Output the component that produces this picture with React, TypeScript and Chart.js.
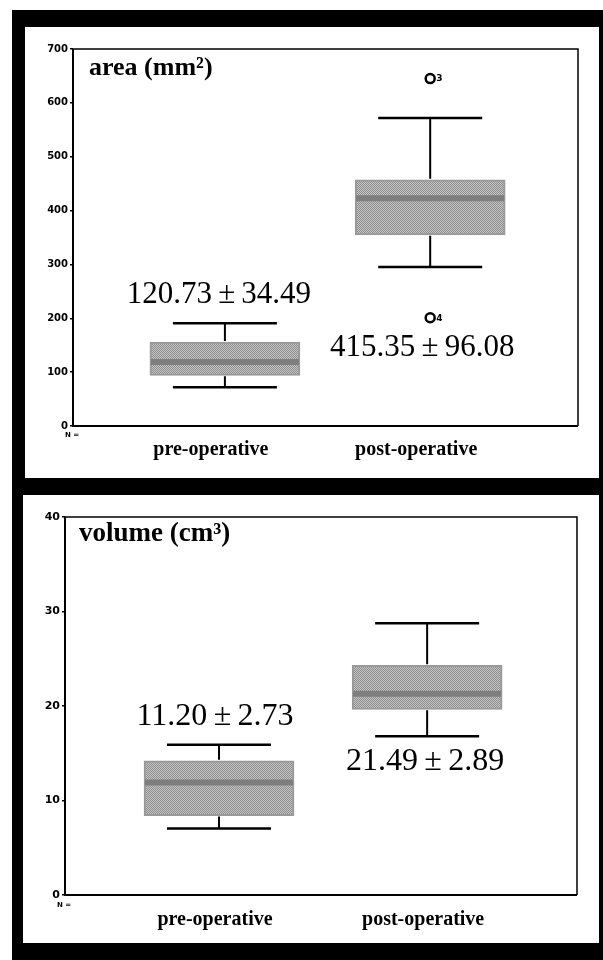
import React, { useEffect, useRef } from "react";
import { Chart, registerables } from "chart.js";

Chart.register(...registerables);

// ---------- data ----------
const categories = ["pre-operative", "post-operative"];

const areaMin = [72, 295];
const areaQ1 = [94, 355];
const areaMedian = [119, 423];
const areaQ3 = [156, 457];
const areaMax = [191, 572];
const areaOutlierGroup = [2, 2];
const areaOutlierValues = [645, 201];
const areaOutlierIds = ["3", "4"];
const areaMean = [120.73, 415.35];
const areaSD = [34.49, 96.08];
const areaTicks = [0, 100, 200, 300, 400, 500, 600, 700];

const volumeMin = [7.05, 16.8];
const volumeQ1 = [8.4, 19.65];
const volumeMedian = [11.9, 21.3];
const volumeQ3 = [14.2, 24.3];
const volumeMax = [15.9, 28.75];
const volumeOutlierGroup: number[] = [];
const volumeOutlierValues: number[] = [];
const volumeOutlierIds: string[] = [];
const volumeMean = [11.2, 21.49];
const volumeSD = [2.73, 2.89];
const volumeTicks = [0, 10, 20, 30, 40];

function makePattern(): CanvasPattern | string {
  const c = document.createElement("canvas");
  c.width = 2;
  c.height = 2;
  const g = c.getContext("2d");
  if (!g) return "#a8a8a8";
  g.fillStyle = "#c4c4c4";
  g.fillRect(0, 0, 2, 2);
  g.fillStyle = "#8e8e8e";
  g.fillRect(0, 0, 1, 1);
  g.fillRect(1, 1, 1, 1);
  const p = g.createPattern(c, "repeat");
  return p || "#a8a8a8";
}

type PanelProps = {
  width: number;
  height: number;
  title: string;
  titleFont: number;
  titleDx: number;
  titleDy: number;
  min: number[];
  q1: number[];
  median: number[];
  q3: number[];
  max: number[];
  outGroup: number[];
  outValues: number[];
  outIds: string[];
  mean: number[];
  sd: number[];
  ticks: number[];
  yAxisWidth: number;
  xAxisHeight: number;
  padRight: number;
  padTop: number;
  tickFont: number;
  labelOffset: number;
  labelPad: number;
  annoFont: number;
  annoPos: { dx: number; y: number }[];
  nDx: number;
  nDy: number;
};

function Panel(p: PanelProps) {
  const ref = useRef<HTMLCanvasElement | null>(null);
  useEffect(() => {
    if (!ref.current) return;
    const pattern = makePattern();
    const boxPlugin = {
      id: "boxExtras",
      afterDatasetsDraw(chart: any) {
        const ctx = chart.ctx;
        const xs = chart.scales.x;
        const ys = chart.scales.y;
        const area = chart.chartArea;
        ctx.save();
        for (let i = 0; i < categories.length; i++) {
          const cx = xs.getPixelForValue(i + 1);
          const half = 75;
          const capHalf = 52;
          ctx.strokeStyle = "#7e7e7e";
          ctx.lineWidth = 6;
          const my = ys.getPixelForValue(p.median[i]);
          ctx.beginPath();
          ctx.moveTo(cx - half + 1, my);
          ctx.lineTo(cx + half - 1, my);
          ctx.stroke();
          ctx.strokeStyle = "#000";
          ctx.lineWidth = 2;
          const yq3 = ys.getPixelForValue(p.q3[i]);
          const yq1 = ys.getPixelForValue(p.q1[i]);
          const ymax = ys.getPixelForValue(p.max[i]);
          const ymin = ys.getPixelForValue(p.min[i]);
          ctx.beginPath();
          ctx.moveTo(cx, yq3 - 1);
          ctx.lineTo(cx, ymax);
          ctx.moveTo(cx, yq1 + 1);
          ctx.lineTo(cx, ymin);
          ctx.stroke();
          ctx.lineWidth = 2.5;
          ctx.beginPath();
          ctx.moveTo(cx - capHalf, ymax);
          ctx.lineTo(cx + capHalf, ymax);
          ctx.moveTo(cx - capHalf, ymin);
          ctx.lineTo(cx + capHalf, ymin);
          ctx.stroke();
        }
        const meta = chart.getDatasetMeta(1);
        if (meta && meta.data) {
          ctx.fillStyle = "#000";
          ctx.font = "bold 9px 'DejaVu Sans'";
          ctx.textAlign = "left";
          ctx.textBaseline = "middle";
          meta.data.forEach((el: any, k: number) => {
            ctx.fillText(p.outIds[k], el.x + 6, el.y + 0.5);
          });
        }
        ctx.fillStyle = "#000";
        ctx.font = `${p.annoFont}px 'Liberation Serif'`;
        ctx.textAlign = "center";
        ctx.textBaseline = "middle";
        for (let i = 0; i < categories.length; i++) {
          const txt = `${p.mean[i].toFixed(2)}\u2009\u00b1\u2009${p.sd[i].toFixed(2)}`;
          const ax = xs.getPixelForValue(i + 1) + p.annoPos[i].dx;
          const ay = ys.getPixelForValue(p.annoPos[i].y);
          ctx.fillText(txt, ax, ay);
        }
        ctx.font = `bold ${p.titleFont}px 'Liberation Serif'`;
        ctx.textAlign = "left";
        ctx.textBaseline = "alphabetic";
        ctx.fillText(p.title, area.left + p.titleDx, area.top + p.titleDy);
        ctx.font = "bold 7px 'DejaVu Sans'";
        ctx.textBaseline = "middle";
        ctx.fillText("N =", area.left + p.nDx, area.bottom + p.nDy);
        ctx.strokeStyle = "#000";
        ctx.lineWidth = 1.5;
        ctx.beginPath();
        ctx.moveTo(area.left, area.top);
        ctx.lineTo(area.right, area.top);
        ctx.lineTo(area.right, area.bottom);
        ctx.stroke();
        ctx.lineWidth = 2;
        ctx.beginPath();
        ctx.moveTo(area.left, area.top);
        ctx.lineTo(area.left, area.bottom);
        ctx.lineTo(area.right, area.bottom);
        ctx.stroke();
        ctx.restore();
      },
    };

    const chart = new Chart(ref.current, {
      data: {
        datasets: [
          {
            type: "bar",
            data: categories.map((_, i) => ({ x: i + 1, y: [p.q1[i], p.q3[i]] })) as any,
            backgroundColor: pattern as any,
            borderColor: "#999999",
            borderWidth: 2,
            borderSkipped: false,
            barThickness: 150,
          },
          {
            type: "scatter",
            data: p.outValues.map((v, k) => ({ x: p.outGroup[k], y: v })),
            pointRadius: 4.5,
            pointBorderWidth: 2.5,
            borderColor: "#000",
            backgroundColor: "#fff",
          },
        ],
      } as any,
      options: {
        animation: false,
        responsive: false,
        layout: { padding: { top: p.padTop, right: p.padRight, left: 0, bottom: 0 } },
        plugins: { legend: { display: false }, tooltip: { enabled: false } },
        scales: {
          x: {
            type: "linear",
            min: 0.26,
            max: 2.72,
            offset: false,
            afterBuildTicks: (s: any) => {
              s.ticks = categories.map((_, i) => ({ value: i + 1 }));
            },
            afterFit: (s: any) => {
              s.height = p.xAxisHeight;
            },
            grid: { display: false, drawTicks: false, offset: false },
            border: { display: false },
            ticks: {
              autoSkip: false,
              maxRotation: 0,
              padding: p.labelPad,
              labelOffset: p.labelOffset,
              color: "#000",
              font: { family: "'Liberation Serif'", size: 20, weight: "bold" },
              callback: (v: any) => categories[Number(v) - 1] ?? "",
            },
          },
          y: {
            type: "linear",
            min: p.ticks[0],
            max: p.ticks[p.ticks.length - 1],
            afterBuildTicks: (s: any) => {
              s.ticks = p.ticks.map((v) => ({ value: v }));
            },
            afterFit: (s: any) => {
              s.width = p.yAxisWidth;
            },
            grid: {
              display: true,
              drawOnChartArea: false,
              drawTicks: true,
              tickLength: 3,
              color: "#000",
              lineWidth: 1.5,
            },
            border: { display: false },
            ticks: {
              padding: 2,
              color: "#000",
              font: { family: "'DejaVu Sans'", size: p.tickFont, weight: "bold" },
            },
          },
        },
      } as any,
      plugins: [boxPlugin],
    });
    return () => chart.destroy();
  }, []);
  return <canvas ref={ref} width={p.width} height={p.height} style={{ display: "block" }} />;
}

export default function App() {
  return (
    <div style={{ position: "fixed", left: 0, top: 0, width: 603, height: 960, background: "#fff" }}>
      <div style={{ position: "absolute", left: 12, top: 10, width: 591, height: 950, background: "#000" }} />
      <div style={{ position: "absolute", left: 25, top: 27, width: 574, height: 451, background: "#fff" }}>
        <Panel
          width={574}
          height={451}
          title={"area (mm\u00b2)"}
          titleFont={26}
          titleDx={16}
          titleDy={26}
          min={areaMin}
          q1={areaQ1}
          median={areaMedian}
          q3={areaQ3}
          max={areaMax}
          outGroup={areaOutlierGroup}
          outValues={areaOutlierValues}
          outIds={areaOutlierIds}
          mean={areaMean}
          sd={areaSD}
          ticks={areaTicks}
          yAxisWidth={48}
          xAxisHeight={52}
          padRight={21}
          padTop={22}
          tickFont={10}
          labelOffset={-14}
          labelPad={12}
          annoFont={31}
          annoPos={[
            { dx: -6, y: 243 },
            { dx: -8, y: 145 },
          ]}
          nDx={-8}
          nDy={9}
        />
      </div>
      <div style={{ position: "absolute", left: 23, top: 495, width: 576, height: 448, background: "#fff" }}>
        <Panel
          width={576}
          height={448}
          title={"volume (cm\u00b3)"}
          titleFont={27}
          titleDx={14}
          titleDy={24}
          min={volumeMin}
          q1={volumeQ1}
          median={volumeMedian}
          q3={volumeQ3}
          max={volumeMax}
          outGroup={volumeOutlierGroup}
          outValues={volumeOutlierValues}
          outIds={volumeOutlierIds}
          mean={volumeMean}
          sd={volumeSD}
          ticks={volumeTicks}
          yAxisWidth={42}
          xAxisHeight={48}
          padRight={22}
          padTop={22}
          tickFont={11}
          labelOffset={-4}
          labelPad={13}
          annoFont={32}
          annoPos={[
            { dx: -4, y: 18.9 },
            { dx: -2, y: 14.1 },
          ]}
          nDx={-8}
          nDy={10}
        />
      </div>
    </div>
  );
}
